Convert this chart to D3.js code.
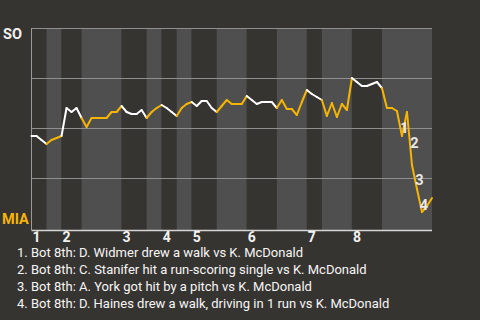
<!DOCTYPE html>
<html>
<head>
<meta charset="utf-8">
<script src="https://cdn.jsdelivr.net/npm/d3@7"></script>
<style>
  html, body { margin: 0; padding: 0; background: #363431; }
  svg { display: block; font-family: Roboto, "Noto Sans", sans-serif; }
</style>
</head>
<body>
<div id="chart"></div>
<script>
// SO win probability after each event (0 = MIA wins, 1 = SO wins)
const winProb = [
  0.46, 0.46, 0.44, 0.42, 0.44, 0.45, 0.46,
  0.60, 0.58, 0.60, 0.55, 0.505, 0.55, 0.55, 0.55, 0.55, 0.58, 0.58,
  0.61, 0.58, 0.57, 0.57, 0.59, 0.55, 0.58, 0.60, 0.615, 0.60, 0.58,
  0.56, 0.60, 0.62, 0.63, 0.61, 0.635, 0.635, 0.60, 0.58, 0.61, 0.64,
  0.62, 0.62, 0.62, 0.66, 0.64, 0.62, 0.63, 0.63, 0.63, 0.60, 0.64,
  0.595, 0.595, 0.565, 0.63, 0.69, 0.67, 0.655, 0.64, 0.56, 0.625,
  0.555, 0.62, 0.59, 0.75, 0.73, 0.71, 0.71, 0.72, 0.73, 0.70,
  0.60, 0.60, 0.585, 0.46, 0.58, 0.315, 0.195, 0.08, 0.11, 0.15
];

// event index where each half inning starts (last entry = end of data)
const halfStarts = [0, 3, 6, 10, 18, 23, 26, 29, 32, 37, 43, 49, 55, 58, 64, 70, 80];
const inningLabels = ["1", "2", "3", "4", "5", "6", "7", "8"];
const gridTicks = [0.25, 0.5, 0.75, 1];

// numbered markers on the line
const noteNums = ["1", "2", "3", "4"];
const noteIdx = [74.5, 76.5, 77.5, 78.4];
const noteProb = [0.5, 0.425, 0.24, 0.115];
const notes = [
  "1. Bot 8th: D. Widmer drew a walk vs K. McDonald",
  "2. Bot 8th: C. Stanifer hit a run-scoring single vs K. McDonald",
  "3. Bot 8th: A. York got hit by a pitch vs K. McDonald",
  "4. Bot 8th: D. Haines drew a walk, driving in 1 run vs K. McDonald"
];

const W = 480, H = 320;
const awayColor = "#ffffff", homeColor = "#f7b500";

const svg = d3.select("#chart").append("svg")
  .attr("width", W).attr("height", H);

svg.append("rect").attr("width", W).attr("height", H).attr("fill", "#363431");

const x = d3.scaleLinear().domain([0, 80]).range([31.5, 432]);
const y = d3.scaleLinear().domain([0, 1]).range([228, 28]);

// half inning bands
const halves = d3.range(halfStarts.length - 1).map(k => ({
  k, start: halfStarts[k], end: halfStarts[k + 1], top: k % 2 === 0
}));

svg.append("g").selectAll("rect")
  .data(halves)
  .join("rect")
  .attr("x", d => x(d.start))
  .attr("y", y(1))
  .attr("width", d => x(d.end) - x(d.start))
  .attr("height", y(0) - y(1) + 2)
  .attr("fill", d => d.top ? "#363431" : "#4f4f4f");

// grid lines
svg.append("g").selectAll("line")
  .data(gridTicks)
  .join("line")
  .attr("x1", x(0)).attr("x2", x(80))
  .attr("y1", d => Math.round(y(d)) + 0.5)
  .attr("y2", d => Math.round(y(d)) + 0.5)
  .attr("stroke", "#8f8f8f")
  .attr("stroke-width", 1);

// left and bottom axis lines
svg.append("line")
  .attr("x1", x(0)).attr("x2", x(0))
  .attr("y1", y(1)).attr("y2", y(0) + 2)
  .attr("stroke", "#9a9a9a");
svg.append("line")
  .attr("x1", x(0)).attr("x2", x(80))
  .attr("y1", y(0) + 2.5).attr("y2", y(0) + 2.5)
  .attr("stroke", "#d6d6d6")
  .attr("stroke-width", 1.5);

// win probability line, one colour per half inning
const segs = d3.range(winProb.length - 1).map(i => {
  const half = d3.bisectRight(halfStarts, i) - 1;
  return { i, top: half % 2 === 0 };
});

svg.append("g").selectAll("line")
  .data(segs)
  .join("line")
  .attr("x1", d => x(d.i))
  .attr("y1", d => y(winProb[d.i]))
  .attr("x2", d => x(d.i + 1))
  .attr("y2", d => y(winProb[d.i + 1]))
  .attr("stroke", d => d.top ? awayColor : homeColor)
  .attr("stroke-width", 2)
  .attr("stroke-linecap", "round");

// event markers
svg.append("g").selectAll("text")
  .data(noteNums)
  .join("text")
  .attr("x", (d, k) => x(noteIdx[k]))
  .attr("y", (d, k) => y(noteProb[k]) + 5)
  .attr("text-anchor", "middle")
  .attr("font-size", 14.5)
  .attr("font-weight", "bold")
  .attr("fill", "#e8e8e8")
  .text(d => d);

// inning labels
svg.append("g").selectAll("text")
  .data(inningLabels)
  .join("text")
  .attr("x", (d, k) => x(halfStarts[k * 2]) + 1)
  .attr("y", 242)
  .attr("font-size", 14)
  .attr("font-weight", "bold")
  .attr("fill", "#f2f2f2")
  .text(d => d);

// team labels
svg.append("text")
  .attr("x", 3).attr("y", 39)
  .attr("font-size", 14.5).attr("font-weight", "bold")
  .attr("fill", "#f2f2f2")
  .text("SO");
svg.append("text")
  .attr("x", 2).attr("y", 224)
  .attr("font-size", 14.5).attr("font-weight", "bold")
  .attr("fill", homeColor)
  .text("MIA");

// play notes
svg.append("g").selectAll("text")
  .data(notes)
  .join("text")
  .attr("x", 17)
  .attr("y", (d, k) => 257 + k * 17)
  .attr("font-size", 13)
  .attr("fill", "#f6f6f6")
  .text(d => d);
</script>
</body>
</html>
